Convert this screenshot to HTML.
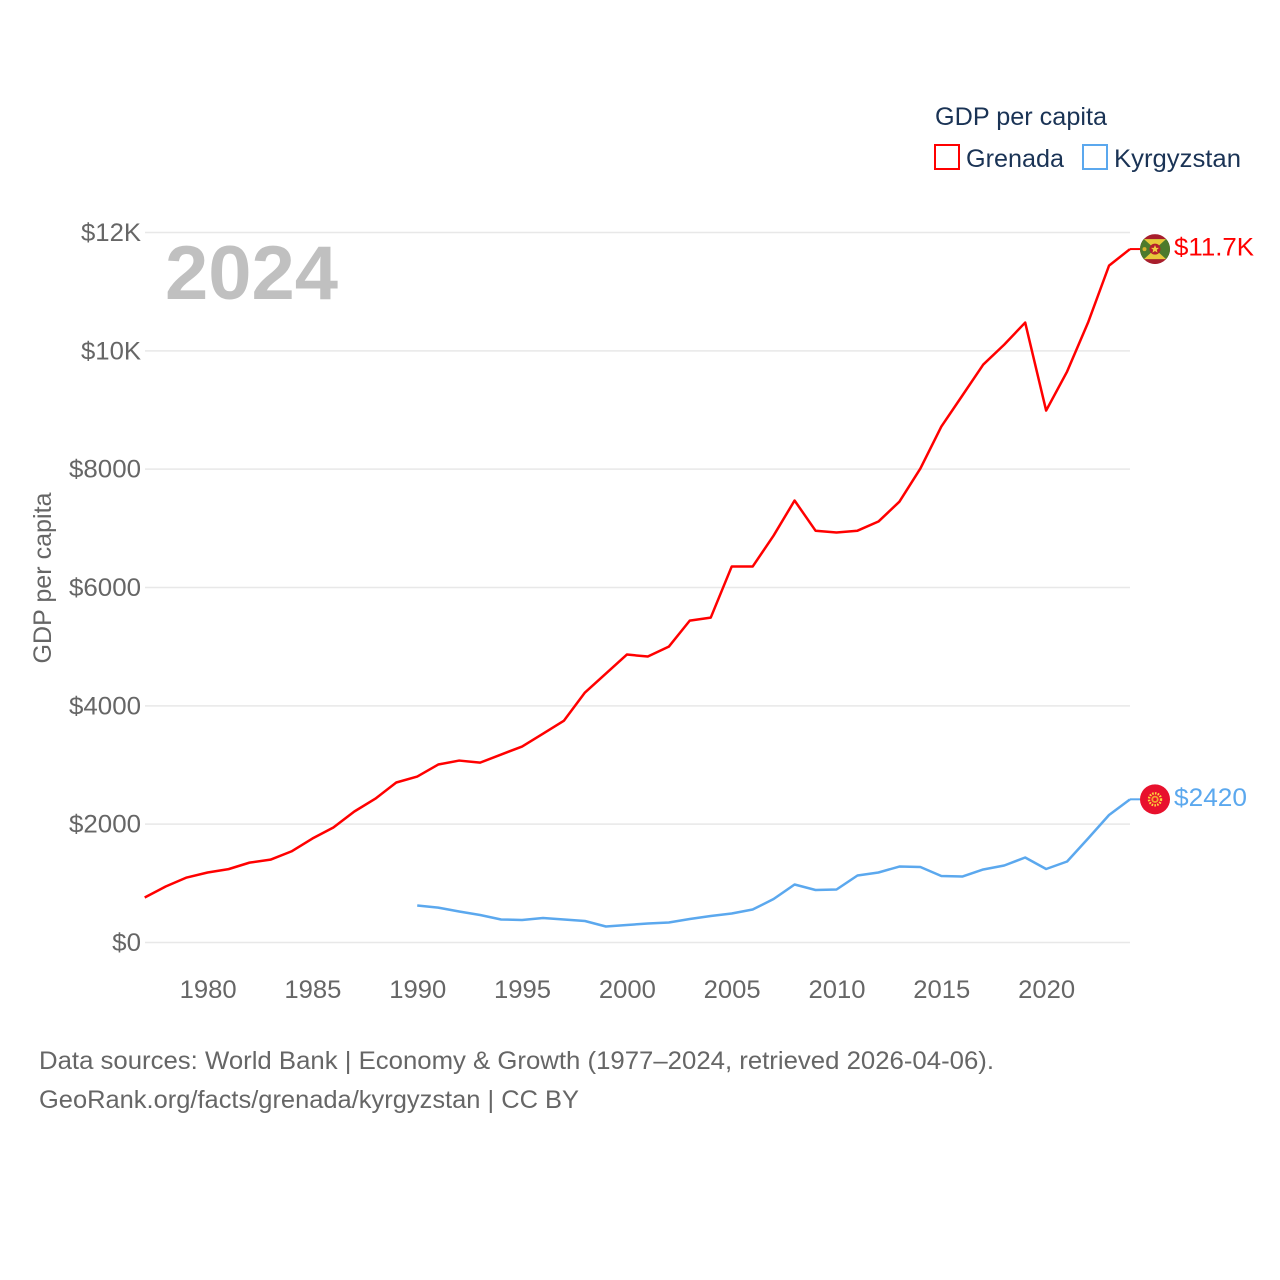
<!DOCTYPE html>
<html lang="en">
<head>
<meta charset="utf-8">
<title>GDP per capita: Grenada and Kyrgyzstan</title>
<style>
html,body{margin:0;padding:0;background:#fff;width:1280px;height:1280px;overflow:hidden}
svg{display:block;font-family:"Liberation Sans",sans-serif}
text{font-size:25px}
.tick{fill:#666}
.legend{fill:#1a3355}
.foot{fill:#666}
</style>
</head>
<body>
<svg id="chart" width="1280" height="1280" viewBox="0 0 1280 1280" xmlns="http://www.w3.org/2000/svg">
  <g id="grid"></g>
  <g id="yticks"></g>
  <g id="xticks"></g>
  <text x="51" y="578" text-anchor="middle" transform="rotate(-90 51 578)" class="tick" textLength="171" lengthAdjust="spacingAndGlyphs">GDP per capita</text>
  <text x="165" y="299" font-weight="700" style="font-size:76px" fill="#c0c0c0" textLength="173" lengthAdjust="spacingAndGlyphs">2024</text>
  <g id="series"></g>

  <g>
    <text x="935" y="125" class="legend" textLength="172" lengthAdjust="spacingAndGlyphs">GDP per capita</text>
    <rect x="935" y="145" width="24" height="24" fill="none" stroke="#ff0000" stroke-width="2"/>
    <text x="966" y="167" class="legend" textLength="98" lengthAdjust="spacingAndGlyphs">Grenada</text>
    <rect x="1083" y="145" width="24" height="24" fill="none" stroke="#5ba8ee" stroke-width="2"/>
    <text x="1114" y="167" class="legend" textLength="127" lengthAdjust="spacingAndGlyphs">Kyrgyzstan</text>
  </g>

  <g id="flag-gd">
    <clipPath id="clip-gd"><circle cx="0" cy="0" r="15"/></clipPath>
    <g clip-path="url(#clip-gd)">
      <rect x="-15" y="-15" width="30" height="30" fill="#a81e2c"/>
      <rect x="-15" y="-10" width="30" height="20" fill="#4c7a2c"/>
      <polygon points="-11,-10 11,-10 0,0" fill="#e8c93a"/>
      <polygon points="-11,10 11,10 0,0" fill="#e8c93a"/>
      <circle cx="0" cy="0" r="5.5" fill="#b5202c"/>
      <polygon points="0,-4 1.2,-1.2 4,-1.2 1.8,0.7 2.5,3.5 0,1.9 -2.5,3.5 -1.8,0.7 -4,-1.2 -1.2,-1.2" fill="#f0d040"/>
      <circle cx="-10.5" cy="0" r="2" fill="#d8b02a"/>
    </g>
  </g>
  <g id="flag-kg">
    <circle cx="0" cy="0" r="15" fill="#e8112d"/>
    <circle cx="0" cy="0" r="6" fill="none" stroke="#ffd83d" stroke-width="2.4" stroke-dasharray="1.6 1.2"/>
    <circle cx="0" cy="0" r="3.6" fill="#f2a52e"/>
    <circle cx="0" cy="0" r="1.8" fill="#e8112d"/>
  </g>
  <text id="end-gd" x="1174" class="end" fill="#ff0000" textLength="80" lengthAdjust="spacingAndGlyphs"></text>
  <text id="end-kg" x="1174" class="end" fill="#5ba8ee" textLength="73" lengthAdjust="spacingAndGlyphs"></text>

  <g>
    <text x="39" y="1069" class="foot" textLength="955" lengthAdjust="spacingAndGlyphs">Data sources: World Bank | Economy &amp; Growth (1977–2024, retrieved 2026-04-06).</text>
    <text x="39" y="1108" class="foot" textLength="540" lengthAdjust="spacingAndGlyphs">GeoRank.org/facts/grenada/kyrgyzstan | CC BY</text>
  </g>
</svg>
<script>
const yearStart = 1977;
const yearEnd = 2024;
const grenadaStartYear = 1977;
const kyrgyzstanStartYear = 1990;
const xTicks = [1980, 1985, 1990, 1995, 2000, 2005, 2010, 2015, 2020];
const yTicks = [0, 2000, 4000, 6000, 8000, 10000, 12000];
const yTickLabels = ["$0", "$2000", "$4000", "$6000", "$8000", "$10K", "$12K"];
const grenadaValues = [760, 946, 1098, 1183, 1240, 1350, 1400, 1540, 1757, 1943, 2214, 2430, 2704, 2805, 3008, 3075, 3040, 3177, 3312, 3530, 3750, 4225, 4545, 4867, 4833, 5000, 5440, 5490, 6354, 6354, 6878, 7470, 6960, 6930, 6960, 7115, 7450, 8010, 8720, 9243, 9768, 10105, 10478, 8990, 9650, 10478, 11440, 11720];
const kyrgyzstanValues = [625, 590, 524, 465, 389, 380, 414, 389, 363, 270, 296, 321, 338, 397, 448, 490, 557, 735, 980, 887, 896, 1132, 1183, 1284, 1276, 1124, 1115, 1234, 1301, 1437, 1242, 1369, 1758, 2155, 2420];
const endLabels = ["$11.7K", "$2420"];

const NS = "http://www.w3.org/2000/svg";
const xScale = year => 144.7 + (year - yearStart) * (1130 - 144.7) / (yearEnd - yearStart);
const yScale = value => 942.5 - value * (942.5 - 232.5) / 12000;

const grid = document.getElementById("grid");
const yGroup = document.getElementById("yticks");
const xGroup = document.getElementById("xticks");
const seriesGroup = document.getElementById("series");

yTicks.forEach((tick, i) => {
  const line = document.createElementNS(NS, "line");
  line.setAttribute("x1", 145);
  line.setAttribute("x2", 1130);
  line.setAttribute("y1", yScale(tick));
  line.setAttribute("y2", yScale(tick));
  line.setAttribute("stroke", "#e8e8e8");
  line.setAttribute("stroke-width", "1.5");
  
  
  grid.appendChild(line);

  const label = document.createElementNS(NS, "text");
  label.setAttribute("x", 141);
  label.setAttribute("y", yScale(tick) + 8.5);
  label.setAttribute("text-anchor", "end");
  label.setAttribute("class", "tick");
  label.setAttribute("textLength", yTickLabels[i].length * 14.4 + (yTickLabels[i].includes("K") ? 2.4 : 0));
  label.setAttribute("lengthAdjust", "spacingAndGlyphs");
  
  
  label.textContent = yTickLabels[i];
  yGroup.appendChild(label);
});

xTicks.forEach(tick => {
  const label = document.createElementNS(NS, "text");
  label.setAttribute("x", xScale(tick) + 0.5);
  label.setAttribute("y", 998);
  label.setAttribute("text-anchor", "middle");
  label.setAttribute("class", "tick");
  label.setAttribute("textLength", 57);
  label.setAttribute("lengthAdjust", "spacingAndGlyphs");
  
  
  label.textContent = tick;
  xGroup.appendChild(label);
});

function drawSeries(values, startYear, color) {
  const points = values.map((v, i) => xScale(startYear + i).toFixed(2) + "," + yScale(v).toFixed(2));
  const line = document.createElementNS(NS, "polyline");
  line.setAttribute("points", points.join(" "));
  line.setAttribute("fill", "none");
  line.setAttribute("stroke", color);
  line.setAttribute("stroke-width", "2.5");
  line.setAttribute("stroke-linejoin", "round");
  
  
  seriesGroup.appendChild(line);
  return values[values.length - 1];
}

const lastGd = drawSeries(grenadaValues, grenadaStartYear, "#ff0000");
const lastKg = drawSeries(kyrgyzstanValues, kyrgyzstanStartYear, "#5ba8ee");

function drawLeader(value, color) {
  const tail = document.createElementNS(NS, "line");
  tail.setAttribute("x1", xScale(yearEnd));
  tail.setAttribute("x2", xScale(yearEnd) + 10);
  tail.setAttribute("y1", yScale(value));
  tail.setAttribute("y2", yScale(value));
  tail.setAttribute("stroke", color);
  tail.setAttribute("stroke-width", "2");
  
  
  seriesGroup.appendChild(tail);
}
drawLeader(lastGd, "#ff0000");
drawLeader(lastKg, "#5ba8ee");

document.getElementById("flag-gd").setAttribute("transform", "translate(1155 " + yScale(lastGd) + ")");
document.getElementById("flag-kg").setAttribute("transform", "translate(1155 " + yScale(lastKg) + ")");
const endGd = document.getElementById("end-gd");
endGd.setAttribute("y", yScale(lastGd) + 6.5);
endGd.textContent = endLabels[0];
const endKg = document.getElementById("end-kg");
endKg.setAttribute("y", yScale(lastKg) + 6.5);
endKg.textContent = endLabels[1];
</script>
</body>
</html>
